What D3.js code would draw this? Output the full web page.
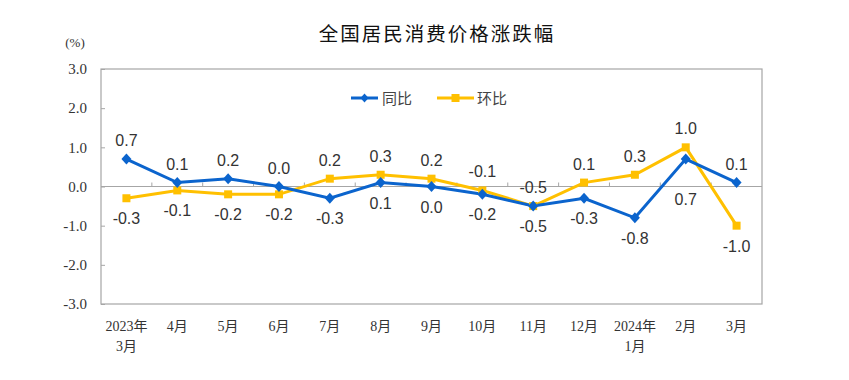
<!DOCTYPE html>
<html><head><meta charset="utf-8">
<script src="https://cdn.jsdelivr.net/npm/d3@7/dist/d3.min.js"></script>
<style>body{margin:0;background:#fff}</style>
</head><body>
<svg id="c" width="849" height="380"></svg>
<script>
const categories = ["2023年\n3月","4月","5月","6月","7月","8月","9月","10月","11月","12月","2024年\n1月","2月","3月"];
const yoy = [0.7,0.1,0.2,0.0,-0.3,0.1,0.0,-0.2,-0.5,-0.3,-0.8,0.7,0.1];
const mom = [-0.3,-0.1,-0.2,-0.2,0.2,0.3,0.2,-0.1,-0.5,0.1,0.3,1.0,-1.0];
const yTicks = [3,2,1,0,-1,-2,-3];
// label placement: true = above
const yoyAbove = [true,true,true,true,false,false,false,false,false,false,false,false,true];

const svg = d3.select("#c");
const L=101,R=762,T=69,B=304;
const x = d3.scaleBand().domain(d3.range(categories.length)).range([L,R]);
const y = d3.scaleLinear().domain([-3,3]).range([B,T]);
const BLUE="#0B64CD", YEL="#FFC000", AX="#a6a6a6";
const fmt = d => d.toFixed(1);

svg.append("text").attr("x",437).attr("y",41).attr("text-anchor","middle")
  .attr("font-family","'Noto Sans CJK SC',sans-serif").attr("font-size",19.5).attr("letter-spacing",2)
  .attr("fill","#111").text("全国居民消费价格涨跌幅");
svg.append("text").attr("x",75).attr("y",47).attr("text-anchor","middle")
  .attr("font-family","'Liberation Serif',serif").attr("font-size",13).attr("fill","#333").text("(%)");

// frame
svg.append("rect").attr("x",L).attr("y",T).attr("width",R-L).attr("height",B-T)
  .attr("fill","none").attr("stroke",AX).attr("stroke-width",1.2);

// y axis
const ya = svg.append("g").attr("transform",`translate(${L},0)`)
  .call(d3.axisLeft(y).tickValues(yTicks).tickFormat(fmt).tickSize(-4).tickPadding(14));
ya.select(".domain").remove();
ya.selectAll("line").attr("stroke",AX);
ya.selectAll("text").attr("font-family","'Liberation Serif',serif").attr("font-size",15).attr("fill","#333");

// zero line
svg.append("line").attr("x1",L).attr("x2",R).attr("y1",y(0)).attr("y2",y(0)).attr("stroke",AX).attr("stroke-width",1.2);
// category ticks on zero line
svg.selectAll(".ct").data(d3.range(1,categories.length)).join("line")
  .attr("x1",i=>L+i*x.step()).attr("x2",i=>L+i*x.step())
  .attr("y1",y(0)).attr("y2",y(0)-4).attr("stroke",AX);

// x labels
const xl = svg.selectAll(".xl").data(categories).join("text")
  .attr("x",(d,i)=>x(i)+x.bandwidth()/2).attr("y",331).attr("text-anchor","middle")
  .attr("font-family","'Liberation Serif','Noto Sans CJK SC',serif").attr("font-size",14).attr("fill","#333");
xl.each(function(d){
  const parts=d.split("\n");
  const xx=d3.select(this).attr("x");
  d3.select(this).selectAll("tspan").data(parts).join("tspan")
    .attr("x",xx).attr("dy",(p,j)=>j?20:0).text(p=>p);
});

const cx = i=>x(i)+x.bandwidth()/2;
const line = d3.line().x((d,i)=>cx(i)).y(d=>y(d));
svg.append("path").attr("d",line(mom)).attr("fill","none").attr("stroke",YEL).attr("stroke-width",3);
svg.append("path").attr("d",line(yoy)).attr("fill","none").attr("stroke",BLUE).attr("stroke-width",3);
svg.selectAll(".sq").data(mom).join("rect")
  .attr("x",(d,i)=>cx(i)-4).attr("y",d=>y(d)-4).attr("width",8).attr("height",8).attr("fill",YEL);
const dia = "M0,-5.5L5,0L0,5.5L-5,0Z";
svg.selectAll(".dm").data(yoy).join("path").attr("d",dia)
  .attr("transform",(d,i)=>`translate(${cx(i)},${y(d)})`).attr("fill",BLUE);

const lab = (vals,above,extra)=>svg.append("g").selectAll("text").data(vals).join("text")
  .attr("x",(d,i)=>cx(i)).attr("y",(d,i)=>y(d)+(above(i)?-13:26+(extra[i]||0))).attr("text-anchor","middle")
  .attr("font-family","'Liberation Sans',Arial,sans-serif").attr("font-size",16).attr("fill","#333")
  .text(d=>fmt(d));
lab(yoy,i=>yoyAbove[i],{11:20});
lab(mom,i=>!yoyAbove[i],{});

// legend
const lg = svg.append("g");
lg.append("line").attr("x1",351).attr("x2",378).attr("y1",98).attr("y2",98).attr("stroke",BLUE).attr("stroke-width",3);
lg.append("path").attr("d","M0,-4.5L4,0L0,4.5L-4,0Z").attr("transform","translate(364.5,98)").attr("fill",BLUE);
lg.append("text").attr("x",382).attr("y",104).text("同比");
lg.append("line").attr("x1",437).attr("x2",474).attr("y1",98).attr("y2",98).attr("stroke",YEL).attr("stroke-width",3);
lg.append("rect").attr("x",451.5).attr("y",94).attr("width",8).attr("height",8).attr("fill",YEL);
lg.append("text").attr("x",477).attr("y",104).text("环比");
lg.selectAll("text").attr("font-family","'Noto Sans CJK SC',sans-serif").attr("font-size",15).attr("fill","#444");
</script>
</body></html>
